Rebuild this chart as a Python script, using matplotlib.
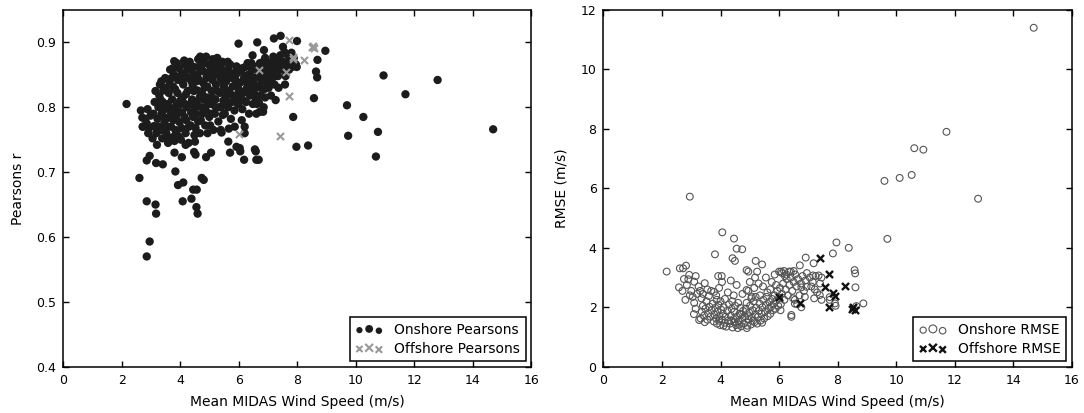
import numpy as np
import matplotlib
matplotlib.use("Agg")
import matplotlib.pyplot as plt
from matplotlib.legend_handler import HandlerPathCollection

# Datos (velocidad media MIDAS vs Pearson r / RMSE)

# --- Panel izquierdo: Pearson r ---
on_pear_x = [
    2.16, 2.65, 2.72, 2.80, 2.88, 2.93, 2.98, 2.70, 2.85,
    3.05, 3.10, 3.08, 3.12, 3.18, 3.22, 3.25, 3.28, 3.30, 3.33, 3.36, 3.40, 3.42, 3.45, 3.48, 3.15, 3.38, 3.47, 3.20, 3.35,
    3.52, 3.55, 3.57, 3.60, 3.62, 3.65, 3.68, 3.70, 3.72, 3.75, 3.78, 3.80, 3.83, 3.85, 3.87, 3.90, 3.92, 3.95, 3.97, 3.99, 3.58, 3.66, 3.88, 3.74, 3.94,
    4.02, 4.04, 4.06, 4.08, 4.10, 4.12, 4.15, 4.18, 4.20, 4.22, 4.25, 4.27, 4.30, 4.32, 4.35, 4.37, 4.40, 4.42, 4.45, 4.47, 4.48, 4.28, 4.13, 4.38, 4.16, 4.44,
    4.52, 4.54, 4.56, 4.58, 4.60, 4.62, 4.64, 4.67, 4.70, 4.72, 4.75, 4.77, 4.80, 4.82, 4.85, 4.87, 4.90, 4.92, 4.95, 4.97, 4.99, 4.68, 4.88, 4.57, 4.79, 4.93,
    5.02, 5.05, 5.07, 5.10, 5.12, 5.15, 5.18, 5.20, 5.22, 5.25, 5.28, 5.30, 5.32, 5.35, 5.37, 5.40, 5.43, 5.45, 5.47, 5.49, 5.13, 5.38, 5.26, 5.44,
    5.52, 5.55, 5.57, 5.60, 5.63, 5.66, 5.68, 5.70, 5.73, 5.76, 5.79, 5.82, 5.85, 5.88, 5.91, 5.94, 5.97, 5.99, 5.62, 5.86,
    6.02, 6.05, 6.08, 6.12, 6.15, 6.18, 6.22, 6.25, 6.28, 6.32, 6.35, 6.38, 6.42, 6.45, 6.48, 6.10, 6.30, 6.46,
    6.52, 6.55, 6.58, 6.62, 6.65, 6.68, 6.72, 6.75, 6.78, 6.82, 6.85, 6.88, 6.92, 6.95, 6.98, 6.60, 6.90,
    7.02, 7.05, 7.08, 7.12, 7.15, 7.18, 7.22, 7.26, 7.30, 7.34, 7.38, 7.42, 7.46, 7.10, 7.36,
    7.52, 7.56, 7.60, 7.64, 7.68, 7.72, 7.76, 7.82, 7.88, 7.95, 7.58,
    3.25, 3.32, 3.42, 3.50, 3.56, 3.63, 3.70, 3.76, 3.82, 3.86, 3.91, 3.98, 4.03, 4.07, 4.14, 4.19, 4.24,
    4.29, 4.34, 4.39, 4.46, 4.50, 4.55, 4.61, 4.66, 4.71, 4.76, 4.83, 4.89, 4.94, 5.00, 5.04, 5.09,
    5.16, 5.21, 5.27, 5.33, 5.39, 5.46, 5.53, 5.59, 5.65, 5.72, 5.78, 5.84, 5.90, 5.96, 6.04, 6.11,
    6.17, 6.24, 6.33, 6.40, 6.50, 6.57, 6.64, 6.73, 6.81, 6.90, 7.00, 7.13, 7.24, 7.32, 7.45, 7.55, 7.70,
    # puntos dispersos
    2.85, 2.95, 2.60, 2.85, 3.15, 3.17, 3.83, 3.92, 4.10, 4.08, 4.38, 4.44, 4.56, 4.55, 4.59, 4.73, 4.80,
    2.85, 2.95, 3.17, 3.40, 3.80, 4.05, 4.52, 4.88, 5.05, 5.70, 6.18, 6.60, 6.68, 6.05, 6.58,
    2.71, 2.90, 3.19, 3.53, 3.75, 4.18, 4.50, 4.47, 4.55, 5.41, 5.66, 5.64, 5.92, 6.03, 6.20, 6.20, 6.55,
    7.86, 7.97, 8.37, 9.74, 8.57, 7.26, 6.72, 6.83, 6.59, 6.69,
    5.99, 6.63, 7.20, 7.43, 7.99, 7.51, 6.86, 6.47, 7.80, 7.78, 8.96, 8.69, 8.64, 8.68, 7.98,
    3.79, 4.27, 4.61, 4.75, 5.10, 5.46, 5.92, 6.43, 6.83, 7.17, 7.44,
    9.70, 10.26, 10.95, 10.76, 10.69, 11.70, 12.80, 14.70,
]
on_pear_y = [
    0.805, 0.795, 0.770, 0.782, 0.797, 0.768, 0.787, 0.784, 0.775,
    0.752, 0.771, 0.790, 0.808, 0.760, 0.782, 0.800, 0.818, 0.835, 0.765, 0.790, 0.808, 0.826, 0.775, 0.845, 0.825, 0.752, 0.797, 0.742, 0.840,
    0.760, 0.783, 0.805, 0.822, 0.840, 0.858, 0.770, 0.795, 0.812, 0.832, 0.850, 0.748, 0.765, 0.786, 0.803, 0.822, 0.842, 0.860, 0.777, 0.810, 0.745, 0.788, 0.868, 0.860, 0.755,
    0.750, 0.768, 0.792, 0.815, 0.835, 0.852, 0.866, 0.760, 0.780, 0.800, 0.825, 0.845, 0.858, 0.870, 0.772, 0.792, 0.812, 0.833, 0.850, 0.862, 0.757, 0.745, 0.872, 0.840, 0.805, 0.785,
    0.768, 0.790, 0.808, 0.826, 0.845, 0.862, 0.875, 0.760, 0.780, 0.800, 0.820, 0.838, 0.855, 0.868, 0.772, 0.795, 0.815, 0.832, 0.850, 0.866, 0.785, 0.878, 0.878, 0.850, 0.812, 0.760,
    0.772, 0.805, 0.825, 0.842, 0.860, 0.872, 0.790, 0.812, 0.835, 0.852, 0.866, 0.778, 0.800, 0.822, 0.845, 0.858, 0.870, 0.788, 0.810, 0.832, 0.765, 0.765, 0.876, 0.850,
    0.790, 0.815, 0.840, 0.858, 0.800, 0.825, 0.848, 0.866, 0.782, 0.808, 0.832, 0.852, 0.795, 0.818, 0.840, 0.860, 0.805, 0.828, 0.870, 0.770,
    0.815, 0.838, 0.855, 0.797, 0.822, 0.846, 0.862, 0.808, 0.830, 0.850, 0.790, 0.818, 0.840, 0.858, 0.805, 0.780, 0.868, 0.828,
    0.822, 0.845, 0.862, 0.805, 0.832, 0.852, 0.868, 0.818, 0.840, 0.858, 0.800, 0.828, 0.848, 0.865, 0.838, 0.790, 0.876,
    0.830, 0.852, 0.868, 0.842, 0.860, 0.878, 0.835, 0.856, 0.872, 0.848, 0.866, 0.880, 0.858, 0.818, 0.830,
    0.870, 0.885, 0.848, 0.865, 0.880, 0.858, 0.872, 0.862, 0.876, 0.866, 0.835,
    0.770, 0.812, 0.785, 0.830, 0.770, 0.800, 0.845, 0.780, 0.828, 0.760, 0.795, 0.848, 0.805, 0.840, 0.785, 0.820, 0.858,
    0.770, 0.805, 0.860, 0.825, 0.800, 0.840, 0.778, 0.815, 0.860, 0.790, 0.830, 0.845, 0.805, 0.855, 0.790, 0.815,
    0.850, 0.800, 0.825, 0.860, 0.800, 0.840, 0.826, 0.805, 0.858, 0.820, 0.845, 0.810, 0.850, 0.835, 0.825, 0.860,
    0.810, 0.840, 0.822, 0.850, 0.838, 0.815, 0.858, 0.830, 0.848, 0.815, 0.858, 0.870, 0.848, 0.862, 0.870, 0.860, 0.868,
    0.570, 0.593, 0.691, 0.655, 0.650, 0.636, 0.701, 0.680, 0.684, 0.655, 0.659, 0.673, 0.673, 0.646, 0.636, 0.691, 0.688,
    0.718, 0.725, 0.714, 0.712, 0.730, 0.723, 0.727, 0.723, 0.730, 0.730, 0.719, 0.719, 0.719, 0.732, 0.732,
    0.770, 0.760, 0.762, 0.754, 0.754, 0.742, 0.747, 0.731, 0.760, 0.761, 0.767, 0.747, 0.739, 0.737, 0.770, 0.760, 0.735,
    0.785, 0.739, 0.741, 0.756, 0.814, 0.811, 0.793, 0.793, 0.814, 0.807,
    0.898, 0.900, 0.906, 0.910, 0.902, 0.893, 0.888, 0.880, 0.884, 0.873, 0.887, 0.873, 0.855, 0.846, 0.862,
    0.871, 0.865, 0.874, 0.873, 0.874, 0.869, 0.863, 0.868, 0.870, 0.870, 0.868,
    0.803, 0.785, 0.849, 0.762, 0.724, 0.820, 0.842, 0.766,
]
off_pear_x = [6.01, 7.40, 7.72, 6.69, 7.63, 7.72, 7.86, 8.23, 8.52, 8.55, 8.57, 7.84]
off_pear_y = [0.759, 0.756, 0.817, 0.857, 0.855, 0.903, 0.874, 0.873, 0.893, 0.895, 0.891, 0.877]

# --- Panel derecho: RMSE (m/s) ---
on_rmse_x = [
    3.32, 3.36, 3.40, 3.44, 3.48, 3.52, 3.55, 3.58, 3.62, 3.66, 3.70, 3.73, 3.77, 3.79, 3.35, 3.60, 3.46,
    3.82, 3.85, 3.88, 3.90, 3.93, 3.96, 3.99, 4.02, 4.05, 4.08, 4.11, 4.14, 4.17, 4.20, 4.23, 4.26, 4.29, 3.87, 4.00, 4.15, 3.95, 4.10,
    4.32, 4.35, 4.38, 4.41, 4.44, 4.47, 4.50, 4.53, 4.56, 4.59, 4.62, 4.65, 4.68, 4.71, 4.74, 4.77, 4.40, 4.60, 4.48, 4.70, 4.36, 4.64,
    4.80, 4.83, 4.86, 4.89, 4.92, 4.95, 4.98, 5.01, 5.04, 5.07, 5.10, 5.13, 5.16, 5.19, 5.22, 5.25, 5.28, 4.90, 5.05, 5.20, 4.96, 5.12,
    5.31, 5.34, 5.37, 5.40, 5.43, 5.46, 5.49, 5.52, 5.55, 5.58, 5.61, 5.64, 5.67, 5.70, 5.73, 5.76, 5.79, 5.42, 5.60, 5.35,
    5.82, 5.85, 5.88, 5.91, 5.94, 5.97, 6.00, 6.03, 6.06, 6.10, 6.14, 6.18, 6.22, 6.26, 6.30, 6.05, 6.20, 5.90,
    6.35, 6.40, 6.45, 6.50, 6.55, 6.60, 6.65, 6.70, 6.75, 6.80, 6.85, 6.90, 6.95, 6.48, 6.62, 6.88,
    7.05, 7.10, 7.15, 7.25, 7.30, 7.40, 7.45, 7.20,
    3.00, 3.05, 3.10, 3.15, 3.20, 3.25, 2.75, 2.85, 2.95, 2.70, 2.80, 3.15, 3.30, 3.55, 3.85, 4.25, 4.45, 4.55, 4.75,
    4.95, 5.00, 5.15, 5.30, 5.45, 5.55, 5.70, 5.85, 6.00, 6.10, 6.25, 6.40, 4.35, 5.25, 5.75, 3.68, 4.05, 3.40, 3.95,
    # puntos dispersos
    2.16, 2.95, 4.06, 4.46, 4.55, 4.74, 3.81, 4.41, 4.49, 2.61, 2.72, 2.82, 2.93, 2.90, 2.58, 3.10, 3.46, 3.78,
    3.92, 4.04, 4.89, 4.95, 5.20, 5.42, 5.18, 4.89, 5.07, 3.09, 3.27,
    6.91, 7.18, 6.71, 6.07, 6.17, 6.34, 6.50, 7.16, 7.35, 7.84, 7.96, 8.38, 8.58, 8.60, 8.61, 8.64, 8.88, 7.91, 7.93,
    7.73, 7.73, 7.45, 7.39, 7.22, 6.94, 6.76, 6.54, 6.54, 6.42, 6.42, 6.76,
    9.60, 9.70, 10.12, 10.53, 10.62, 10.93, 11.72, 12.80, 14.70,
]
on_rmse_y = [
    1.62, 1.85, 2.05, 1.72, 1.95, 2.20, 1.58, 1.80, 2.02, 1.68, 1.90, 2.12, 1.52, 1.75, 2.30, 2.38, 1.50,
    1.98, 1.62, 1.45, 1.85, 2.08, 1.70, 1.40, 1.92, 1.58, 1.78, 2.00, 1.48, 1.68, 1.35, 1.88, 1.55, 2.10, 2.25, 2.20, 2.28, 1.55, 1.38,
    1.45, 1.72, 1.95, 1.32, 1.60, 1.85, 2.05, 1.40, 1.68, 1.30, 1.52, 1.78, 1.98, 1.36, 1.62, 1.88, 2.20, 2.15, 1.50, 1.75, 1.55, 1.42,
    1.45, 1.70, 1.95, 2.15, 1.38, 1.58, 1.82, 2.05, 1.42, 1.65, 1.90, 2.20, 1.50, 1.75, 1.98, 1.45, 1.68, 1.30, 2.30, 2.35, 1.70, 1.55,
    1.88, 2.12, 1.55, 1.78, 2.00, 2.25, 1.62, 1.85, 2.08, 2.35, 1.70, 1.95, 2.18, 1.78, 2.02, 2.28, 1.90, 1.48, 2.50, 2.40,
    2.12, 2.40, 1.95, 2.22, 2.55, 2.05, 2.32, 2.65, 2.10, 2.45, 2.80, 2.25, 2.60, 2.95, 2.40, 1.90, 3.05, 2.75,
    2.75, 3.00, 2.55, 2.85, 3.10, 2.70, 2.95, 2.40, 2.80, 3.05, 2.55, 2.90, 3.15, 2.30, 2.10, 2.35,
    3.00, 2.70, 2.85, 3.05, 2.50, 2.80, 3.00, 2.30,
    2.55, 2.35, 2.15, 1.95, 2.45, 2.70, 2.95, 2.75, 2.40, 2.55, 2.25, 3.05, 2.55, 2.60, 2.40, 2.50, 2.40, 2.75, 2.45,
    2.55, 2.85, 2.65, 2.80, 2.70, 3.00, 2.60, 3.10, 3.20, 3.15, 3.10, 3.20, 2.90, 3.20, 2.85, 2.55, 2.85, 2.45, 2.65,
    3.20, 5.72, 4.52, 4.31, 3.97, 3.95, 3.78, 3.65, 3.56, 3.31, 3.31, 3.40, 3.09, 2.94, 2.67, 2.86, 2.81, 2.52,
    3.05, 3.05, 3.25, 3.20, 3.56, 3.44, 3.00, 2.58, 2.36, 1.77, 1.57,
    3.67, 3.48, 3.41, 3.20, 3.22, 3.20, 3.22, 3.07, 3.07, 3.81, 4.18, 4.00, 3.25, 3.14, 2.67, 2.04, 2.13, 2.13, 2.05,
    2.34, 2.25, 2.25, 2.41, 2.60, 2.69, 2.67, 2.25, 2.12, 1.74, 1.68, 2.00,
    6.25, 4.30, 6.35, 6.45, 7.35, 7.30, 7.90, 5.65, 11.40,
]
off_rmse_x = [7.39, 7.71, 7.58, 7.84, 7.90, 7.71, 8.24, 5.99, 6.71, 8.53, 8.48, 8.58]
off_rmse_y = [3.67, 3.12, 2.67, 2.47, 2.38, 2.02, 2.72, 2.34, 2.13, 2.00, 1.95, 1.92]

TICK_FS = 9
LABEL_FS = 10
plt.rcParams['font.family'] = ['DejaVu Sans']

fig = plt.figure(figsize=(10.84, 4.13), dpi=100)
ax1 = fig.add_axes([0.0585, 0.112, 0.4315, 0.864])
ax2 = fig.add_axes([0.5567, 0.112, 0.4320, 0.864])

ax1.scatter(on_pear_x, on_pear_y, s=36, c='#1c1c1c', edgecolors='none',
            label='Onshore Pearsons', zorder=2)
ax1.scatter(off_pear_x, off_pear_y, s=26, marker='x', c='#999999',
            linewidths=1.5, label='Offshore Pearsons', zorder=3)
ax1.set_xlim(0, 16)
ax1.set_ylim(0.4, 0.95)
ax1.set_yticks([0.4, 0.5, 0.6, 0.7, 0.8, 0.9])
ax1.set_ylabel('Pearsons r', fontsize=LABEL_FS, labelpad=8)

ax2.scatter(on_rmse_x, on_rmse_y, s=24, facecolors='none', edgecolors='#555555',
            linewidths=0.8, label='Onshore RMSE', zorder=2)
ax2.scatter(off_rmse_x, off_rmse_y, s=26, marker='x', c='#111111',
            linewidths=1.7, label='Offshore RMSE', zorder=3)
ax2.set_xlim(0, 16)
ax2.set_ylim(0, 12)
ax2.set_yticks(range(0, 13, 2))
ax2.set_ylabel('RMSE (m/s)', fontsize=LABEL_FS, labelpad=9)

for ax in (ax1, ax2):
    ax.set_xticks(range(0, 17, 2))
    ax.set_xlabel('Mean MIDAS Wind Speed (m/s)', fontsize=LABEL_FS, labelpad=6)
    ax.tick_params(direction='in', top=True, right=True, length=4.5, width=1,
                   labelsize=TICK_FS, pad=5)
    for sp in ax.spines.values():
        sp.set_linewidth(1.1)
    # marcadores de leyenda con tamanos distintos, como el estilo clasico
    handler = {c: HandlerPathCollection(sizes=[20, 32, 22]) for c in ax.collections}
    leg = ax.legend(loc='lower right', scatterpoints=3, fancybox=False,
                    edgecolor='black', framealpha=1, fontsize=LABEL_FS,
                    handlelength=2.0, handletextpad=0.8, borderpad=0.4,
                    borderaxespad=0.4, labelspacing=0.35, handler_map=handler)
    leg.get_frame().set_linewidth(1.1)

fig.savefig('out.png', dpi=100)
